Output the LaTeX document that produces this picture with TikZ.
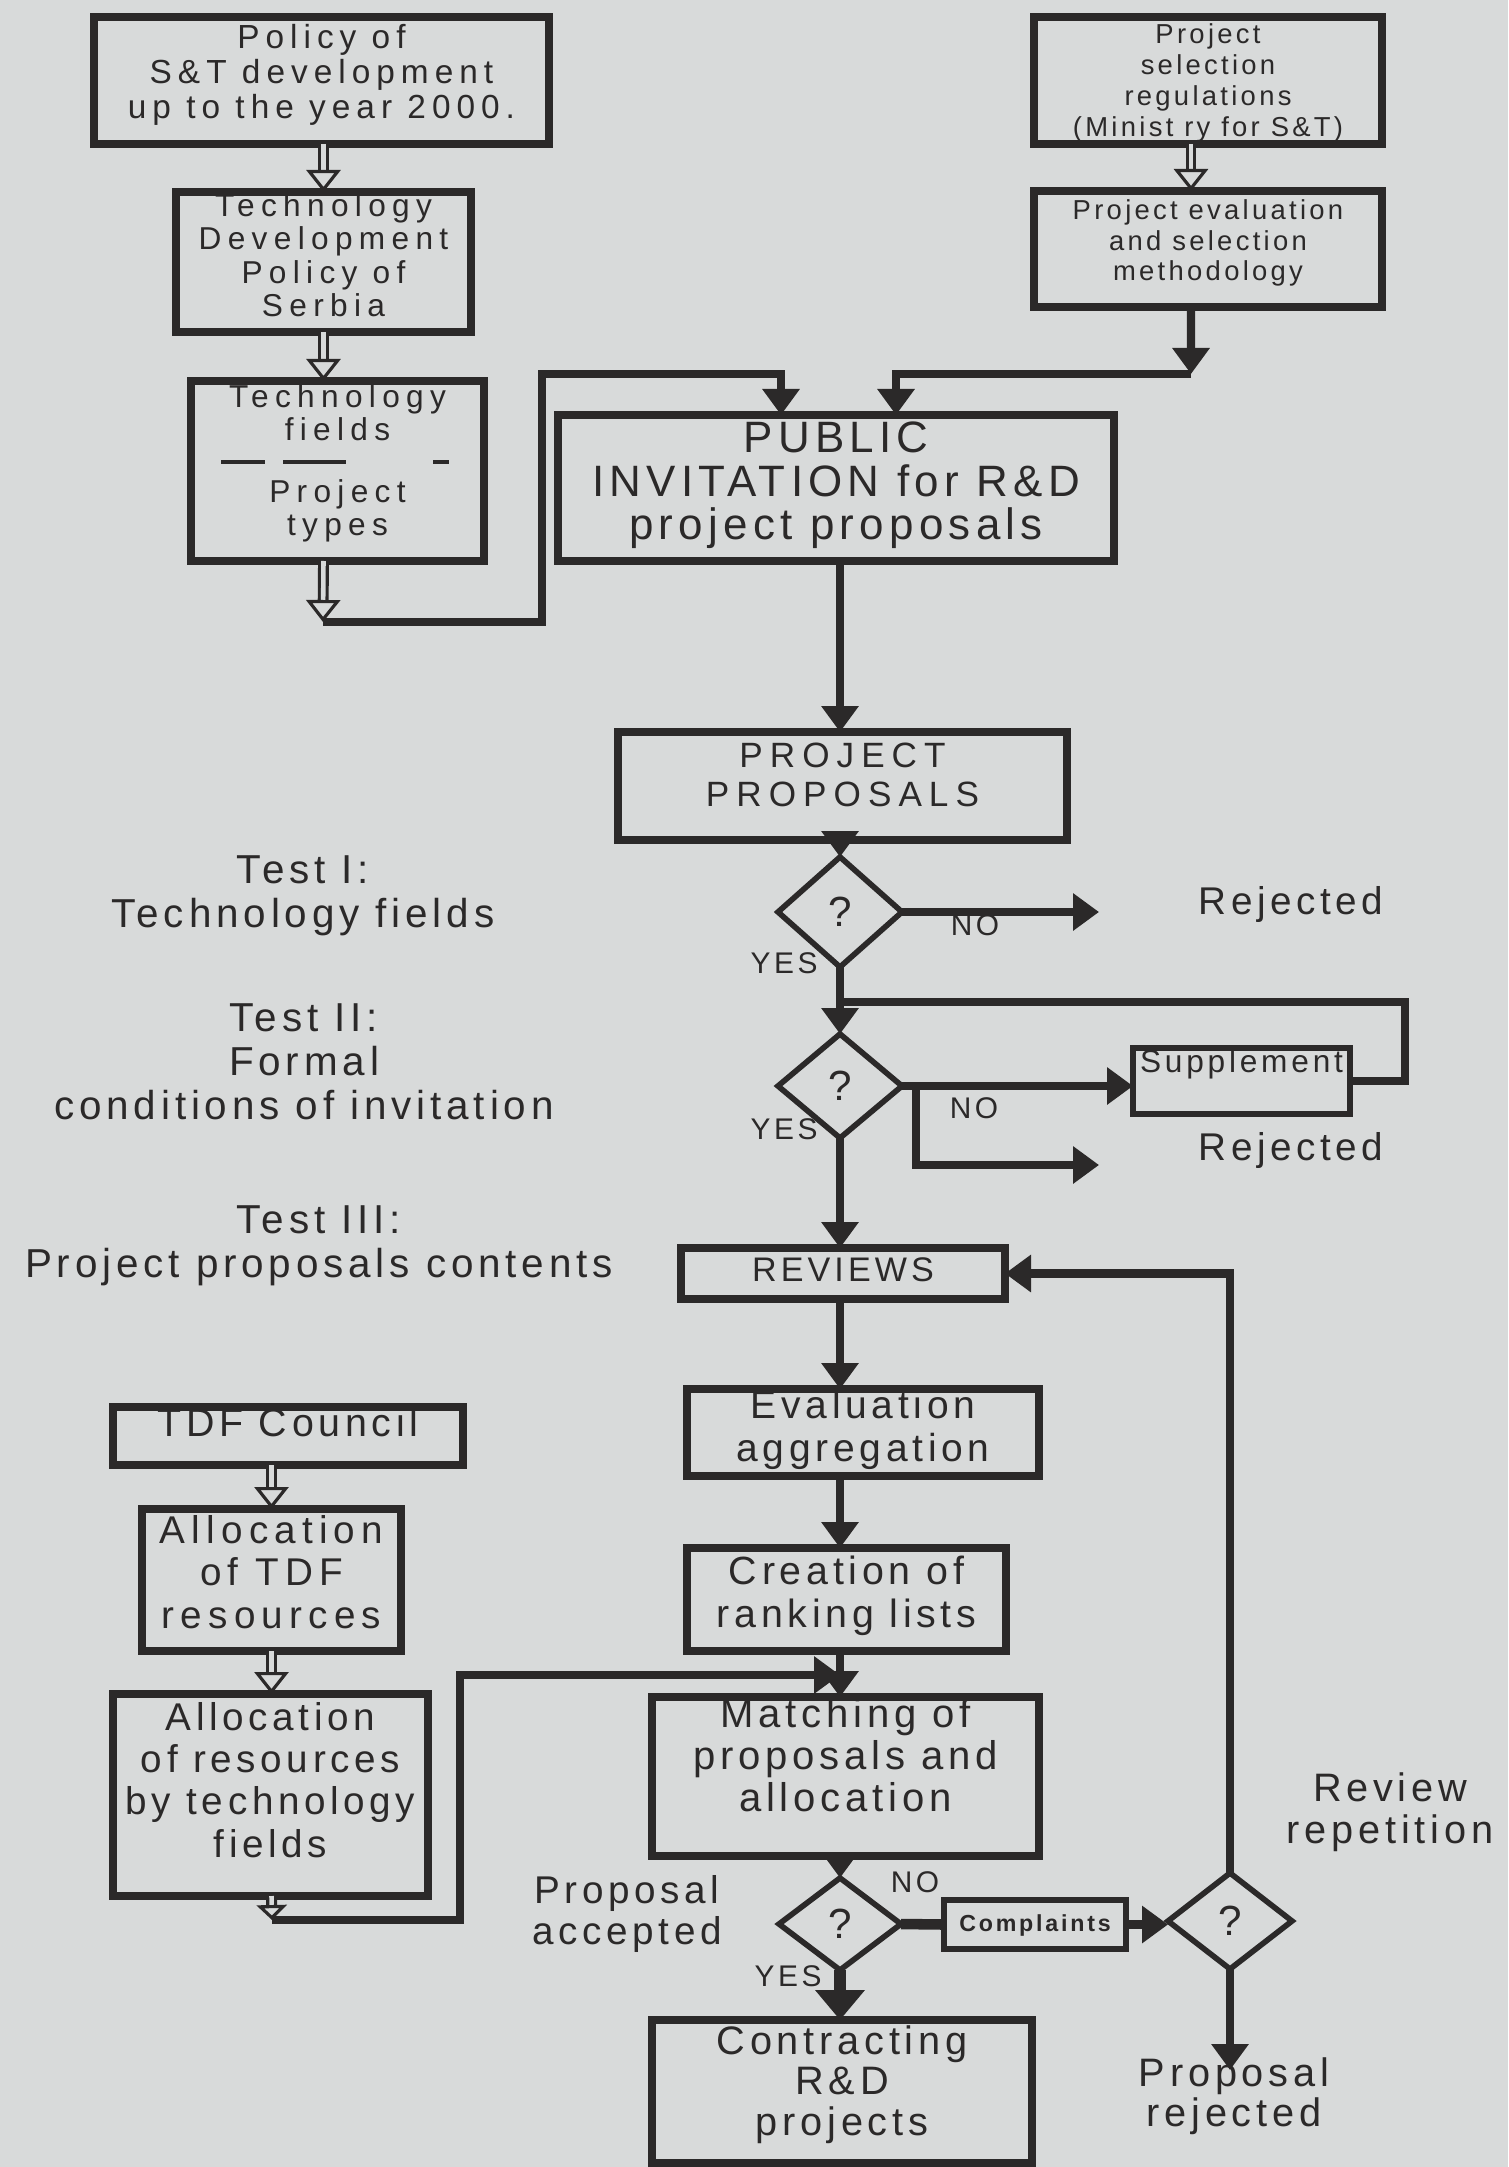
\documentclass[tikz,border=0pt]{standalone}
\usepackage{fontspec}
\setmainfont{Liberation Sans}[LetterSpace=12]
\usetikzlibrary{shapes.geometric,arrows.meta}
\definecolor{paper}{HTML}{D8DADA}
\definecolor{ink}{HTML}{2B2929}
\newcommand{\boxfs}[2]{\fontsize{#1}{#2}\selectfont\lineskiplimit=-\maxdimen}
\begin{document}
\begin{tikzpicture}[x=0.1mm,y=-0.1mm,
    box/.style={draw=ink, line width=2.1pt, inner sep=0pt, outer sep=0pt, align=center, text=ink, text depth=0pt},
    dec/.style={diamond, draw=ink, line width=1.6pt, inner sep=0pt, outer sep=0pt, text=ink, font={\boxfs{12}{12}}},
    lbl/.style={align=center, text=ink, inner sep=0pt},
    tag/.style={text=ink, inner sep=0pt, font={\boxfs{8.5}{8.5}}},
    flow/.style={draw=ink, line width=2.3pt, -{Triangle[length=2.6mm,width=3.6mm]}},
    bigflow/.style={draw=ink, line width=3.4pt, -{Triangle[length=3mm,width=4.8mm]}},
    hollow/.style={draw=ink, line width=0.9pt, double=paper, double distance=1.3pt, -{Triangle[open,length=2.2mm,width=3.4mm]}},
    wire/.style={draw=ink, line width=2.3pt}]
    \useasboundingbox (0,0) rectangle (1508,2167);
    \fill[paper] (0,0) rectangle (1508,2167);

    % Policy column
    \node[box, minimum width=45.5mm, minimum height=12.7mm, text height=7.6mm, font={\boxfs{9.5}{10}\addfontfeature{LetterSpace=18}}] (policy) at (321.5,80.5) {Policy of\\S\&T development\\up to the year 2000.};
    \node[box, minimum width=29.5mm, minimum height=14mm, text height=10.9mm, font={\boxfs{9}{9.5}\addfontfeature{LetterSpace=20}}] (techpol) at (323.5,262) {Technology\\Development\\Policy of\\Serbia};
    \node[box, minimum width=29.3mm, minimum height=18mm, text height=12.9mm, font={\boxfs{9}{9.5}\addfontfeature{LetterSpace=20}}] (fields) at (337.5,471) {Technology\\fields\\[8pt]Project\\types};
    \draw[ink, line width=1.3pt] (221,462) -- (265,462) (283,462) -- (346,462) (433,462) -- (449,462);

    % Regulations column
    \node[box, minimum width=34.8mm, minimum height=12.7mm, text height=11.2mm, font={\boxfs{7.8}{8.8}}] (regs) at (1208,80.5) {Project\\selection\\regulations\\(Minist ry for S\&T)};
    \node[box, minimum width=34.8mm, minimum height=11.6mm, text height=6.4mm, font={\boxfs{7.8}{8.8}}] (method) at (1208,249) {Project evaluation\\and selection\\methodology};

    % Main column
    \node[box, minimum width=55.6mm, minimum height=14.6mm, text height=10.4mm, font={\boxfs{12.5}{12.5}}] (public) at (836,488) {PUBLIC\\INVITATION for R\&D\\project proposals};
    \node[box, minimum width=44.9mm, minimum height=10.8mm, text height=4mm, font={\boxfs{10}{11}\addfontfeature{LetterSpace=20}}] (proposals) at (842.5,786) {PROJECT\\PROPOSALS};
    \node[dec, minimum width=12.4mm, minimum height=11mm] (d1) at (840,912) {?};
    \node[dec, minimum width=12.4mm, minimum height=10.4mm] (d2) at (840,1086) {?};
    \node[box, line width=1.5pt, minimum width=21.7mm, minimum height=6.6mm, text height=0pt, text depth=1.8mm, font={\boxfs{9}{9}}] (suppl) at (1241.5,1081) {Supplement};
    \node[box, minimum width=32.4mm, minimum height=5.1mm, text height=1.5mm, font={\boxfs{9.7}{9.7}}] (reviews) at (843,1273.5) {REVIEWS};
    \node[box, minimum width=35.2mm, minimum height=8.7mm, text height=5.7mm, font={\boxfs{11.1}{12}}] (evalagg) at (863,1432.5) {Evaluation\\aggregation};
    \node[box, minimum width=31.9mm, minimum height=10.3mm, text height=5.5mm, font={\boxfs{11.2}{12}}] (ranking) at (846.5,1599.5) {Creation of\\ranking lists};
    \node[box, minimum width=38.7mm, minimum height=15.9mm, text height=7mm, font={\boxfs{11.4}{12}}] (matching) at (845.5,1776.5) {Matching of\\proposals and\\allocation};
    \node[dec, minimum width=12.2mm, minimum height=9.2mm] (d3) at (840,1924) {?};
    \node[box, line width=1.6pt, minimum width=18.2mm, minimum height=4.9mm, text height=1.3mm, font={\boxfs{6.6}{6.6}\bfseries}] (complaints) at (1035,1924.5) {Complaints};
    \node[dec, minimum width=12.4mm, minimum height=9.6mm] (d4) at (1230,1921) {?};
    \node[box, minimum width=38mm, minimum height=14.3mm, text height=8.7mm, font={\boxfs{11.3}{11.5}}] (contracting) at (842,2091.5) {Contracting\\R\&D\\projects};

    % TDF column
    \node[box, minimum width=35mm, minimum height=5.8mm, text height=0pt, font={\boxfs{11.2}{11.2}}] (tdf) at (288,1436) {TDF Council};
    \node[box, minimum width=25.9mm, minimum height=14.2mm, text height=9.6mm, font={\boxfs{11}{12}\addfontfeature{LetterSpace=16}}] (alloctdf) at (271.5,1580) {Allocation\\of TDF\\resources};
    \node[box, minimum width=31.5mm, minimum height=20.2mm, text height=12.4mm, font={\boxfs{11}{12}}] (allocfields) at (270.5,1795) {Allocation\\of resources\\by technology\\fields};

    % Tests and outcomes
    \node[lbl, font={\boxfs{11.5}{12.5}}] (test1) at (303,896) {Test I:\\Technology fields};
    \node[lbl, font={\boxfs{11.5}{12.5}}] (test2) at (304,1062) {Test II:\\Formal\\conditions of invitation};
    \node[lbl, font={\boxfs{11.5}{12.5}}] (test3) at (319,1246) {Test III:\\Project proposals contents};
    \node[lbl, font={\boxfs{11}{11}}] (rej1) at (1291,905) {Rejected};
    \node[lbl, font={\boxfs{11}{11}}] (rej2) at (1291,1150) {Rejected};
    \node[tag] (yes1) at (784,963) {YES};
    \node[tag] (no1) at (975,925) {NO};
    \node[tag] (yes2) at (784,1129) {YES};
    \node[tag] (no2) at (974,1108) {NO};
    \node[tag] (no3) at (915,1882) {NO};
    \node[tag] (yes3) at (788,1976) {YES};
    \node[lbl, font={\boxfs{11}{11.5}}] (accepted) at (627,1914) {Proposal\\accepted};
    \node[lbl, font={\boxfs{11.3}{11.8}}] (repeat) at (1390,1812) {Review\\repetition};
    \node[lbl, font={\boxfs{11.3}{11.5}}] (rejected) at (1234,2096) {Proposal\\rejected};

    % Corners and free ends
    \coordinate (col) at (840,0);
    \coordinate (fc) at (323,622);
    \coordinate (lc) at (542,374);
    \coordinate (mc) at (1191,374);
    \coordinate (rj1) at (1099,912);
    \coordinate (nb) at (916,1086);
    \coordinate (rj2) at (1099,1165);
    \coordinate (sl) at (1405,1002);
    \coordinate (ac) at (272,1920);
    \coordinate (al) at (460,1675);
    \coordinate (pr) at (1230,2070);

    % Connectors
    \draw[hollow] (policy.south -| techpol) -- (techpol.north);
    \draw[hollow] (techpol.south) -- (techpol.south |- fields.north);
    \draw[hollow] (techpol.south |- fields.south) -- (fc);
    \draw[flow] (fc) -| (lc) -| ([xshift=-5.5mm]public.north);
    \draw[hollow] ([xshift=-1.7mm]regs.south) -- ([xshift=-1.7mm]method.north);
    \draw[flow] ([xshift=-1.7mm]method.south) -- (mc);
    \draw[flow] (mc) -| ([xshift=6mm]public.north);
    \draw[flow] (public.south -| col) -- (proposals.north -| col);
    \draw[flow] (proposals.south -| col) -- (d1.north);
    \draw[flow] (d1.east) -- (rj1);
    \draw[flow] (d1.south) -- (d2.north);
    \draw[flow] (d2.east) -- (d2.east -| suppl.west);
    \draw[flow] (nb) |- (rj2);
    \draw[wire] (suppl.east) -| (sl) -- (sl -| col);
    \draw[flow] (d2.south) -- (reviews.north -| col);
    \draw[flow] (reviews.south -| col) -- (evalagg.north -| col);
    \draw[flow] (evalagg.south -| col) -- (ranking.north -| col);
    \draw[flow] (ranking.south -| col) -- (matching.north -| col);
    \draw[flow] (matching.south -| col) -- (d3.north);
    \draw[bigflow] (d3.south) -- (contracting.north -| col);
    \draw[wire, line width=3pt] (d3.east) -- (complaints.west);
    \draw[flow] (complaints.east) -- (complaints.east -| d4.west);
    \draw[flow] (d4.north) |- (reviews.east);
    \draw[flow] (d4.south) -- (pr);
    \draw[hollow] (tdf.south -| alloctdf) -- (alloctdf.north);
    \draw[hollow] (alloctdf.south) -- (alloctdf.south |- allocfields.north);
    \draw[hollow, -{Triangle[open,length=1.5mm,width=3mm]}] (alloctdf.south |- allocfields.south) -- (ac);
    \draw[flow] (ac) -| (al) -- (al -| col);
\end{tikzpicture}
\end{document}
